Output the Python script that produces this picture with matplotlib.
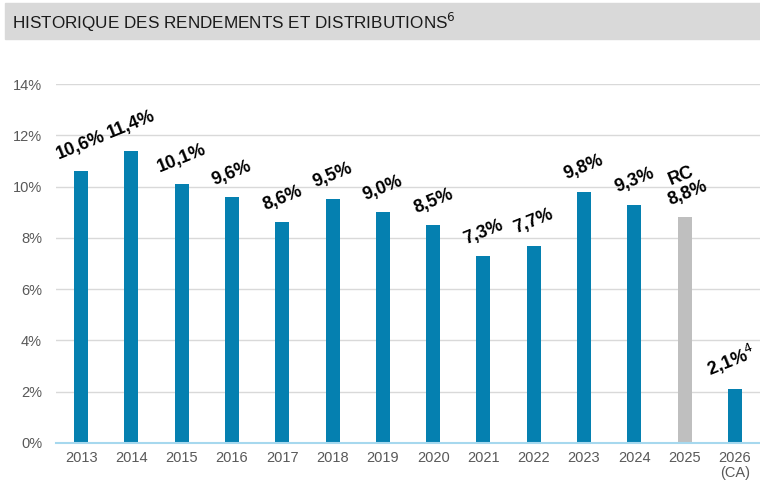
import matplotlib
matplotlib.use("Agg")
import matplotlib.pyplot as plt
from matplotlib.patches import Rectangle
from matplotlib.ticker import FuncFormatter

plt.rcParams['font.family'] = ['Liberation Sans', 'DejaVu Sans']

# data
years = ['2013', '2014', '2015', '2016', '2017', '2018', '2019', '2020',
         '2021', '2022', '2023', '2024', '2025', '2026\n(CA)']
rendements = [10.6, 11.4, 10.1, 9.6, 8.6, 9.5, 9.0, 8.5, 7.3, 7.7, 9.8, 9.3, 8.8, 2.1]
labels = ['10,6%', '11,4%', '10,1%', '9,6%', '8,6%', '9,5%', '9,0%', '8,5%',
          '7,3%', '7,7%', '9,8%', '9,3%', 'RC\n8,8%', '2,1%$^4$']
yticks = [0, 2, 4, 6, 8, 10, 12, 14]

blue = '#0580b0'
grey = '#bfbfbf'
colors = [blue] * len(years)
colors[12] = grey

my_dpi = 100
fig = plt.figure(figsize=(760 / my_dpi, 487 / my_dpi), dpi=my_dpi)

# title banner
fig.patches.append(Rectangle((5 / 760, 1 - 39 / 487), 755 / 760, 36 / 487,
                             transform=fig.transFigure, color='#d9d9d9', zorder=0))
fig.text(12 / 760, 1 - 22 / 487, 'HISTORIQUE DES RENDEMENTS ET DISTRIBUTIONS$^6$',
         fontsize=12.3, va='center', ha='left', color='#1a1a1a')

ax = fig.add_axes([56 / 760, 1 - 443 / 487, 704 / 760, 359 / 487])
x = range(len(years))
ax.bar(x, rendements, width=0.28, color=colors, zorder=3)

for i, (v, lab) in enumerate(zip(rendements, labels)):
    dx = -3 if i == len(years) - 1 else 0
    ax.annotate(lab, (i, v), xytext=(dx, 6), textcoords='offset points',
                ha='center', va='bottom', rotation=22, fontsize=13,
                fontweight='bold', color='black', linespacing=1.15)

ax.set_xlim(-0.5, len(years) - 0.5)
ax.set_ylim(0, 14)
ax.set_yticks(yticks)
ax.yaxis.set_major_formatter(FuncFormatter(lambda v, p: f'{v:.0f}%'))
ax.set_xticks(list(x))
ax.set_xticklabels(years, linespacing=1.1)
ax.grid(axis='y', color='#d9d9d9', linewidth=1, zorder=0)
for s in ['top', 'right', 'left']:
    ax.spines[s].set_visible(False)
ax.spines['bottom'].set_color('#a6d8ee')
ax.spines['bottom'].set_linewidth(1.5)
ax.spines['bottom'].set_zorder(4)
ax.tick_params(axis='both', length=0, labelsize=10.5, colors='#595959', pad=6)
ax.tick_params(axis='y', pad=10)

plt.savefig('out.png', dpi=my_dpi)
